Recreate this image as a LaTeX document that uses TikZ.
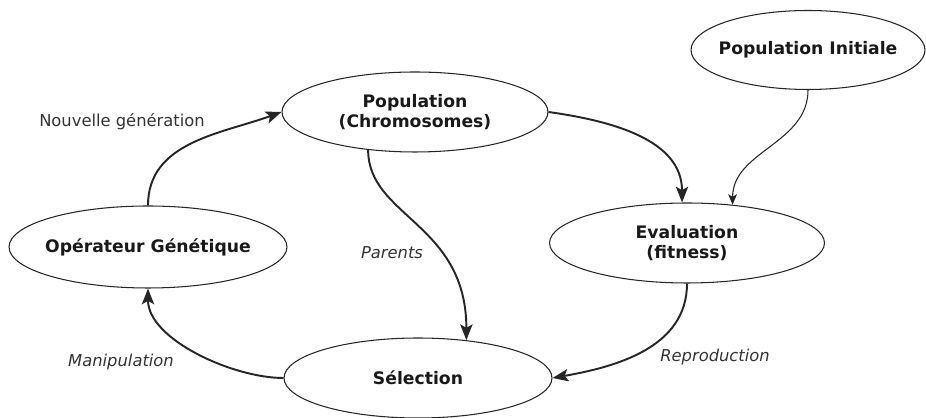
\documentclass[tikz,border=0pt]{standalone}
\usepackage{fontspec}
\setsansfont{DejaVu Sans}
\usetikzlibrary{shapes.geometric,arrows.meta}
\tikzset{
  etat/.style={ellipse,draw=black!85,line width=0.6pt,inner sep=0pt,minimum width=#1,minimum height=1.6cm},
  titre/.style={align=center,font=\sffamily\bfseries\fontsize{9.8}{11.5}\selectfont,text=black!90},
  fleche/.style={line width=1.1pt,draw=black!85,-{Stealth[length=9pt,width=7pt,inset=2pt]}},
  flechefine/.style={line width=0.6pt,draw=black!85,-{Stealth[length=6pt,width=5pt,inset=1.5pt]}},
  etiq/.style={font=\sffamily\itshape\fontsize{9.3}{11}\selectfont,text=black!80}
}
\begin{document}
\begin{tikzpicture}[x=0.02cm,y=0.02cm]
  \useasboundingbox (0,0) rectangle (926,418);
  % les etats
  \node[etat=5.32cm,label={[titre]center:Population\\(Chromosomes)}] (pop) at (415,306) {};
  \node[etat=4.68cm,minimum height=1.58cm,label={[titre]center:Population Initiale}] (init) at (808,368) {};
  \node[etat=5.5cm,label={[titre]center:Evaluation\\(fitness)}] (eval) at (687,175) {};
  \node[etat=5.56cm,minimum height=1.64cm,label={[titre]center:Opérateur Génétique}] (oper) at (148,171) {};
  \node[etat=5.36cm,label={[titre]center:Sélection}] (sel) at (418,40) {};
  % les fleches
  \draw[fleche] (oper.north) to[out=90,in=200] (pop.west);
  \draw[fleche] (pop.east) to[out=-8,in=90] (eval.97);
  \draw[flechefine] (init.south) to[out=-90,in=90] (eval.40);
  \draw[fleche] (pop.219) to[out=-90,in=90,out looseness=0.8,in looseness=1.4] (sel.38);
  \draw[fleche] (eval.south) to[out=-90,in=10] (sel.east);
  \draw[fleche] (sel.west) to[out=180,in=-90,looseness=0.8] (oper.south);
  % les etiquettes
  \node[font=\sffamily\fontsize{9.3}{11}\selectfont,text=black!80] (gen) at (122,296) {Nouvelle génération};
  \node[etiq] (par) at (392,165) {Parents};
  \node[etiq] (man) at (121,56) {Manipulation};
  \node[etiq] (rep) at (715,61) {Reproduction};
\end{tikzpicture}
\end{document}
